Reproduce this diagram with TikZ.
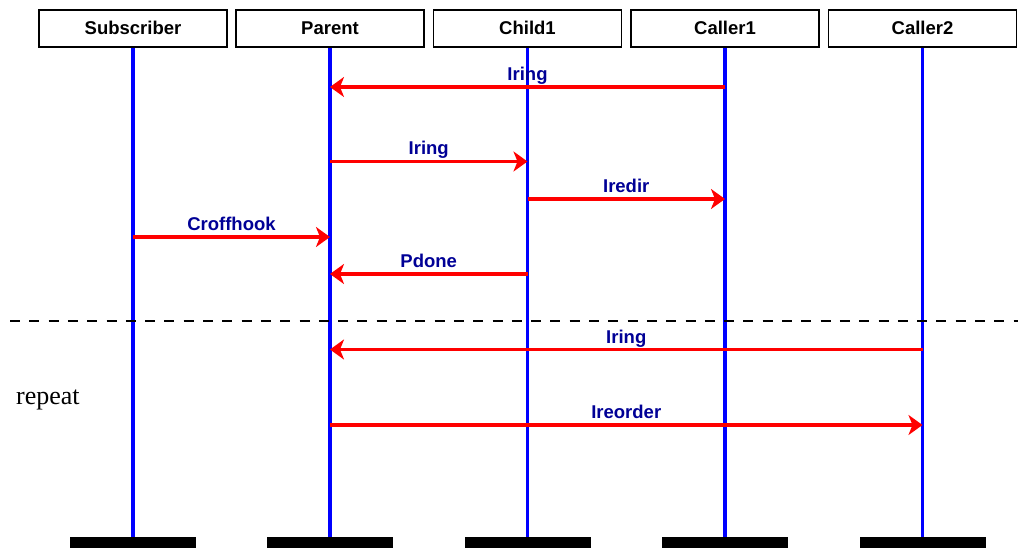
\documentclass[tikz,border=0pt]{standalone}
\usepackage{fontspec}
\setmainfont{Liberation Serif}
\setsansfont{Liberation Sans}
\usetikzlibrary{arrows.meta,calc}
\definecolor{lifeblue}{RGB}{0,0,255}
\definecolor{msgred}{RGB}{255,0,0}
\definecolor{labnavy}{RGB}{0,0,150}
\begin{document}
\begin{tikzpicture}[x=1pt,y=-1pt,
  head/.style={draw=black,line width=1.5pt,minimum width=188pt,minimum height=37pt,inner sep=0pt,
    font=\sffamily\bfseries\fontsize{18.5}{20}\selectfont,anchor=north,
    text height=23.8pt,text depth=13.2pt},
  bar/.style={fill=black,minimum width=126pt,minimum height=11pt,inner sep=0pt,anchor=north},
  life/.style={draw=lifeblue,line width=3.6pt},
  msg/.style={draw=msgred,line width=3.8pt,-{Stealth[length=14pt,width=20pt,inset=4pt]}},
  lab/.style={text=labnavy,font=\sffamily\bfseries\fontsize{18.5}{20}\selectfont,anchor=base,inner sep=0pt,yshift=6.5pt}]
\useasboundingbox (0,0) rectangle (1018,548);
\foreach \n/\x/\t in {s/133/Subscriber,p/330/Parent,c/527.5/Child1,a/725/Caller1,b/922.5/Caller2}{
  \node[head] (h\n) at (\x,9.5) {\t};
  \node[bar] (e\n) at (\x,537) {};
  \draw[life] (h\n.south) -- (e\n.north);
}
\draw[msg] (ha |- 0,87) -- node[lab]{Iring} (hp |- 0,87);
\draw[msg] (hp |- 0,161.5) -- node[lab]{Iring} (hc |- 0,161.5);
\draw[msg] (hc |- 0,199) -- node[lab]{Iredir} (ha |- 0,199);
\draw[msg] (hs |- 0,237) -- node[lab]{Croffhook} (hp |- 0,237);
\draw[msg] (hc |- 0,274) -- node[lab]{Pdone} (hp |- 0,274);
\coordinate (dl) at (10,321);
\coordinate (dr) at (1018,321);
\draw[black,line width=1.2pt,dash pattern=on 10pt off 9.3pt] (dl) -- (dr);
\draw[msg] (hb |- 0,349.5) -- node[lab]{Iring} (hp |- 0,349.5);
\draw[msg] (hp |- 0,425) -- node[lab]{Ireorder} (hb |- 0,425);
\node[font=\fontsize{26}{28}\selectfont,anchor=base west,inner sep=0pt] (rep) at (16,404) {repeat};
\end{tikzpicture}
\end{document}
